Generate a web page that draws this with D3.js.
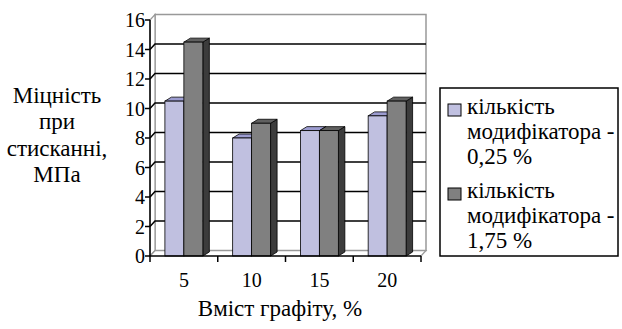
<!DOCTYPE html>
<html>
<head>
<meta charset="utf-8">
<script src="https://cdn.jsdelivr.net/npm/d3@7"></script>
</head>
<body style="margin:0">
<div id="chart"></div>
<script>
const categories = ["5", "10", "15", "20"];
const seriesNames = ["кількість модифікатора - 0,25 %", "кількість модифікатора - 1,75 %"];
const series1 = [10.5, 8.0, 8.5, 9.5];
const series2 = [14.5, 9.0, 8.5, 10.5];
const yTicks = [0, 2, 4, 6, 8, 10, 12, 14, 16];
const legendLines = [["кількість", "модифікатора -", "0,25 %"], ["кількість", "модифікатора -", "1,75 %"]];
const yTitleLines = ["Міцність", "при", "стисканні,", "МПа"];
const xTitle = "Вміст графіту, %";

const FONT = "Liberation Serif";

function drawChart() {
  const width = 622, height = 329;
  const svg = d3.select("#chart").append("svg").attr("width", width).attr("height", height);

  const plot = {left: 150, right: 421, bottom: 256, top: 20};
  const depth = {dx: 5, dy: -5.5};
  const barDepth = {dx: 6.5, dy: -4};

  const y = d3.scaleLinear().domain([0, 16]).range([plot.bottom, plot.top]);
  const x = d3.scaleBand().domain(categories).range([plot.left, plot.right]);
  const xSub = d3.scaleBand().domain([0, 1]).range([x.bandwidth() * 0.22, x.bandwidth() * 0.78]);

  const fills = [
    {front: "#c0c0e0", top: "#9c9cd0", side: "#8080b0"},
    {front: "#808080", top: "#606060", side: "#3c3c3c"}
  ];

  const label = (sel, size) => sel.attr("font-family", FONT)
    .attr("font-size", size).attr("fill", "#000");

  // back wall
  svg.append("rect")
    .attr("x", plot.left + depth.dx).attr("y", y(16) + depth.dy)
    .attr("width", plot.right - plot.left).attr("height", plot.bottom - y(16))
    .attr("fill", "white").attr("stroke", "#999").attr("stroke-width", 1.5);

  // left wall + floor outline
  svg.append("path")
    .attr("d", `M${plot.left},${y(16)}L${plot.left + depth.dx},${y(16) + depth.dy}L${plot.left + depth.dx},${plot.bottom + depth.dy}L${plot.left},${plot.bottom}Z`)
    .attr("fill", "white").attr("stroke", "#999").attr("stroke-width", 1.2);
  svg.append("path")
    .attr("d", `M${plot.left},${plot.bottom}L${plot.left + depth.dx},${plot.bottom + depth.dy}L${plot.right + depth.dx},${plot.bottom + depth.dy}L${plot.right},${plot.bottom}`)
    .attr("fill", "none").attr("stroke", "#999").attr("stroke-width", 1.2);

  // gridlines
  svg.append("g").selectAll("path").data(yTicks.filter(d => d > 0 && d < 16)).join("path")
    .attr("d", d => `M${plot.left},${y(d)}L${plot.left + depth.dx},${y(d) + depth.dy}L${plot.right + depth.dx},${y(d) + depth.dy}`)
    .attr("fill", "none").attr("stroke", "#000").attr("stroke-width", 1.5);

  // bars
  const groups = svg.append("g").selectAll("g").data(categories).join("g")
    .attr("transform", d => `translate(${x(d)},0)`);

  [series1, series2].forEach((vals, s) => {
    groups.each(function(c, i) {
      const g = d3.select(this);
      const x0 = xSub(s), w = xSub.bandwidth();
      const yt = y(vals[i]);
      const dx = barDepth.dx, dy = barDepth.dy;
      g.append("path")
        .attr("d", `M${x0 + w},${plot.bottom}L${x0 + w + dx},${plot.bottom + dy}L${x0 + w + dx},${yt + dy}L${x0 + w},${yt}Z`)
        .attr("fill", fills[s].side).attr("stroke", "#000").attr("stroke-width", 0.8);
      g.append("path")
        .attr("d", `M${x0},${yt}L${x0 + dx},${yt + dy}L${x0 + w + dx},${yt + dy}L${x0 + w},${yt}Z`)
        .attr("fill", fills[s].top).attr("stroke", "#000").attr("stroke-width", 0.8);
      g.append("rect")
        .attr("x", x0).attr("y", yt).attr("width", w).attr("height", plot.bottom - yt)
        .attr("fill", fills[s].front).attr("stroke", "#000").attr("stroke-width", 0.8);
    });
  });

  // y axis
  const yAxis = svg.append("g");
  yAxis.append("line").attr("x1", plot.left).attr("x2", plot.left).attr("y1", plot.top).attr("y2", plot.bottom)
    .attr("stroke", "#000").attr("stroke-width", 1.5);
  yAxis.selectAll("line.tick").data(yTicks).join("line").attr("class", "tick")
    .attr("x1", plot.left - 5).attr("x2", plot.left).attr("y1", d => y(d)).attr("y2", d => y(d))
    .attr("stroke", "#000").attr("stroke-width", 1.5);
  yAxis.selectAll("text").data(yTicks).join("text")
    .attr("x", plot.left - 5).attr("y", d => y(d) + 7)
    .attr("text-anchor", "end").call(label, 20).text(d => d);

  // x axis
  const xAxis = svg.append("g");
  xAxis.append("line").attr("x1", plot.left).attr("x2", plot.right).attr("y1", plot.bottom).attr("y2", plot.bottom)
    .attr("stroke", "#000").attr("stroke-width", 1.5);
  xAxis.selectAll("line.tick").data(categories.concat(["end"])).join("line").attr("class", "tick")
    .attr("x1", (d, i) => plot.left + i * x.step()).attr("x2", (d, i) => plot.left + i * x.step())
    .attr("y1", plot.bottom).attr("y2", plot.bottom + 6)
    .attr("stroke", "#000").attr("stroke-width", 1.5);
  xAxis.selectAll("text").data(categories).join("text")
    .attr("x", d => x(d) + x.bandwidth() / 2).attr("y", 287)
    .attr("text-anchor", "middle").call(label, 20).text(d => d);

  svg.append("text").attr("x", 280).attr("y", 316).attr("text-anchor", "middle")
    .call(label, 23).text(xTitle);

  svg.append("g").selectAll("text").data(yTitleLines).join("text")
    .attr("x", 57).attr("y", (d, i) => 103 + i * 26.3).attr("text-anchor", "middle")
    .call(label, 23).text(d => d);

  // legend
  const legend = svg.append("g");
  legend.append("rect").attr("x", 440).attr("y", 88).attr("width", 178).attr("height", 168)
    .attr("fill", "white").attr("stroke", "#000").attr("stroke-width", 1.5);
  legendLines.forEach((lines, s) => {
    const y0 = 114 + s * 84;
    legend.append("rect").attr("x", 448).attr("y", y0 - 10).attr("width", 13).attr("height", 12)
      .attr("fill", fills[s].front).attr("stroke", "#000").attr("stroke-width", 1);
    lines.forEach((t, j) => {
      legend.append("text").attr("x", 467).attr("y", y0 + j * 25)
        .call(label, 23).text(t);
    });
  });
}

drawChart();
</script>
</body>
</html>
